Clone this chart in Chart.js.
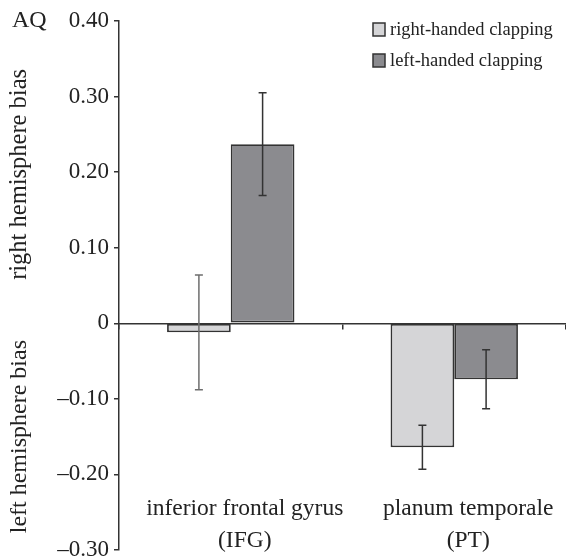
<!DOCTYPE html>
<html>
<head>
<meta charset="utf-8">
<script src="https://cdn.jsdelivr.net/npm/chart.js@4.4.1/dist/chart.umd.min.js"></script>
<style>
  html, body { margin: 0; padding: 0; background: #fff; }
  #wrap { position: relative; width: 566px; height: 560px; }
</style>
</head>
<body>
<div id="wrap"><canvas id="c" width="566" height="560"></canvas></div>
<script>
// ---- data ----
const categories = [["inferior frontal gyrus", "(IFG)"], ["planum temporale", "(PT)"]];
const seriesNames = ["right-handed clapping", "left-handed clapping"];
const rightHanded = [-0.012, -0.164];
const leftHanded = [0.237, -0.074];
const rightHandedErr = [0.076, 0.029];
const leftHandedErr = [0.068, 0.039];
const yTicks = [-0.30, -0.20, -0.10, 0, 0.10, 0.20, 0.30, 0.40];
const yTitleTop = "right hemisphere bias";
const yTitleBottom = "left hemisphere bias";
const cornerLabel = "AQ";

const SERIF = '"Liberation Serif", "DejaVu Serif", serif';
const INK = '#333333';

const errorBars = {
  id: 'errorBars',
  afterDatasetsDraw(chart) {
    const ctx = chart.ctx;
    const ys = chart.scales.y;
    chart.data.datasets.forEach((ds, di) => {
      const meta = chart.getDatasetMeta(di);
      meta.data.forEach((bar, i) => {
        const v = ds.data[i], e = ds.errors[i];
        const yTop = ys.getPixelForValue(v + e);
        const yBot = ys.getPixelForValue(v - e);
        const x = bar.x;
        ctx.save();
        ctx.strokeStyle = ds.errorColors[i];
        ctx.lineWidth = 1.5;
        ctx.beginPath();
        ctx.moveTo(x, yTop); ctx.lineTo(x, yBot);
        ctx.moveTo(x - 4, yTop); ctx.lineTo(x + 4, yTop);
        ctx.moveTo(x - 4, yBot); ctx.lineTo(x + 4, yBot);
        ctx.stroke();
        ctx.restore();
      });
    });
  }
};

const extraText = {
  id: 'extraText',
  afterDraw(chart) {
    const ctx = chart.ctx;
    const ys = chart.scales.y;
    ctx.save();
    ctx.fillStyle = '#222';
    ctx.font = '24px ' + SERIF;
    ctx.textAlign = 'left';
    ctx.textBaseline = 'middle';
    ctx.fillText(cornerLabel, 12, ys.getPixelForValue(0.40));
    // rotated titles
    ctx.textAlign = 'center';
    ctx.save();
    ctx.font = '24.5px ' + SERIF;
    ctx.translate(20, ys.getPixelForValue(0.197));
    ctx.rotate(-Math.PI / 2);
    ctx.fillText(yTitleTop, 0, 0);
    ctx.restore();
    ctx.save();
    ctx.translate(20, ys.getPixelForValue(-0.15));
    ctx.rotate(-Math.PI / 2);
    ctx.fillText(yTitleBottom, 0, 0);
    ctx.restore();
    // legend
    ctx.font = '18.5px ' + SERIF;
    ctx.textAlign = 'left';
    chart.data.datasets.forEach((ds, di) => {
      const top = 23 + di * 31;
      ctx.fillStyle = ds.backgroundColor;
      ctx.fillRect(373, top, 12, 13);
      ctx.strokeStyle = INK;
      ctx.lineWidth = 1.5;
      ctx.strokeRect(373, top, 12, 13);
      ctx.fillStyle = '#222';
      ctx.fillText(ds.label, 390, top + 7);
    });
    ctx.restore();
  }
};

new Chart(document.getElementById('c'), {
  type: 'bar',
  data: {
    labels: categories,
    datasets: [
      { label: seriesNames[0], data: rightHanded, errors: rightHandedErr, errorColors: ['#6e6e6e', INK],
        backgroundColor: '#d5d5d7', borderColor: INK, borderWidth: 1.8, borderSkipped: false,
        barPercentage: 1.0, categoryPercentage: 0.57 },
      { label: seriesNames[1], data: leftHanded, errors: leftHandedErr, errorColors: [INK, INK],
        backgroundColor: '#8b8b8f', borderColor: INK, borderWidth: 1.8, borderSkipped: false,
        barPercentage: 1.0, categoryPercentage: 0.57 }
    ]
  },
  options: {
    responsive: false,
    animation: false,
    devicePixelRatio: 1,
    layout: { padding: { top: 21, bottom: 10, left: 0, right: 0 } },
    plugins: { legend: { display: false }, tooltip: { enabled: false } },
    scales: {
      x: {
        position: { y: 0 },
        offset: true,
        afterFit(scale) { scale.paddingLeft = 0; scale.paddingRight = 0; scale.paddingTop = 0; scale.paddingBottom = 0; },
        grid: { offset: true, drawOnChartArea: false, tickLength: 5, color: INK, lineWidth: 1.5 },
        border: { display: true, color: INK, width: 1.5 },
        ticks: { color: '#222', font: { family: SERIF, size: 23.5, lineHeight: 1.36 }, padding: 165, labelOffset: 14, maxRotation: 0, autoSkip: false }
      },
      y: {
        min: -0.30, max: 0.40,
        afterBuildTicks(scale) { scale.ticks = yTicks.map(v => ({ value: v })); },
        afterFit(scale) { scale.width = 119; scale.paddingTop = 0; scale.paddingBottom = 0; },
        grid: { drawOnChartArea: false, tickLength: 5, color: INK, lineWidth: 1.5 },
        border: { display: true, color: INK, width: 1.5 },
        ticks: {
          color: '#222', padding: 5,
          font: { family: SERIF, size: 23 },
          callback(v) { return Math.abs(v) < 1e-9 ? '0' : (v < 0 ? '\u2013' + Math.abs(v).toFixed(2) : v.toFixed(2)); }
        }
      }
    }
  },
  plugins: [errorBars, extraText]
});
</script>
</body>
</html>
